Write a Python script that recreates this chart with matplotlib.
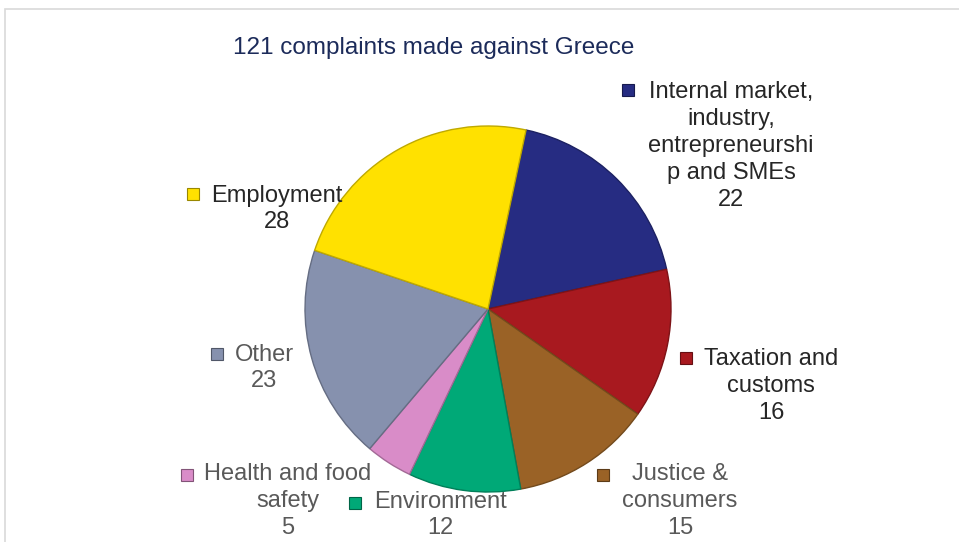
import matplotlib.pyplot as plt
from matplotlib.patches import Rectangle
from matplotlib.colors import to_rgb

plt.rcParams['font.family'] = ['Liberation Sans', 'DejaVu Sans']

# data, clockwise from the top
categories = ['Internal market,\nindustry,\nentrepreneurshi\np and SMEs',
              'Taxation and\ncustoms',
              'Justice &\nconsumers',
              'Environment',
              'Health and food\nsafety',
              'Other',
              'Employment']
values = [22, 16, 15, 12, 5, 23, 28]
colors = ['#262C82', '#A8191F', '#9A6226', '#00A977', '#D98CC8', '#8691AE', '#FFE100']
title = '121 complaints made against Greece'

# layout (pixel coordinates, y measured from top of image)
W, H = 959, 542
pie_center = (488, 309)
pie_radius = 183
label_pos = [(731, 146), (771, 386), (680, 501), (440, 515), (288, 501), (264, 368), (277, 209)]
marker_pos = [(628, 90), (686, 358), (603, 475), (355, 503), (187, 475), (217, 354), (193, 194)]
label_colors = ['#262626', '#262626', '#595959', '#595959', '#595959', '#595959', '#262626']


def darker(c, f=0.7):
    r, g, b = to_rgb(c)
    return (r * f, g * f, b * f)


fig = plt.figure(figsize=(W / 100, H / 100), dpi=100)
ax = fig.add_axes([0, 0, 1, 1])

# light frame
ax.add_patch(Rectangle((5, -20), W + 20, H - 9 + 20, fill=False,
                       edgecolor='#D9D9D9', linewidth=1.2))

wedges, _ = ax.pie(values, colors=colors, startangle=78, counterclock=False,
                   center=(pie_center[0], H - pie_center[1]), radius=pie_radius,
                   frame=True)
for w, c in zip(wedges, colors):
    w.set_edgecolor(darker(c, 0.75))
    w.set_linewidth(1.0)
ax.set_xlim(0, W)
ax.set_ylim(0, H)
ax.set_aspect('equal')
ax.axis('off')

for cat, v, (lx, ly), (mx, my), c, tc in zip(categories, values, label_pos,
                                              marker_pos, colors, label_colors):
    ax.text(lx, H - ly, f'{cat}\n{v}', ha='center', va='center',
            fontsize=17, color=tc, linespacing=1.28)
    ax.plot(mx, H - my, marker='s', markersize=8.5, color=c,
            markeredgecolor=darker(c, 0.6), markeredgewidth=0.8)

ax.text(434, H - 48, title, ha='center', va='center', fontsize=17.5,
        color='#1C2B5A')

fig.savefig('out.png', dpi=100)
